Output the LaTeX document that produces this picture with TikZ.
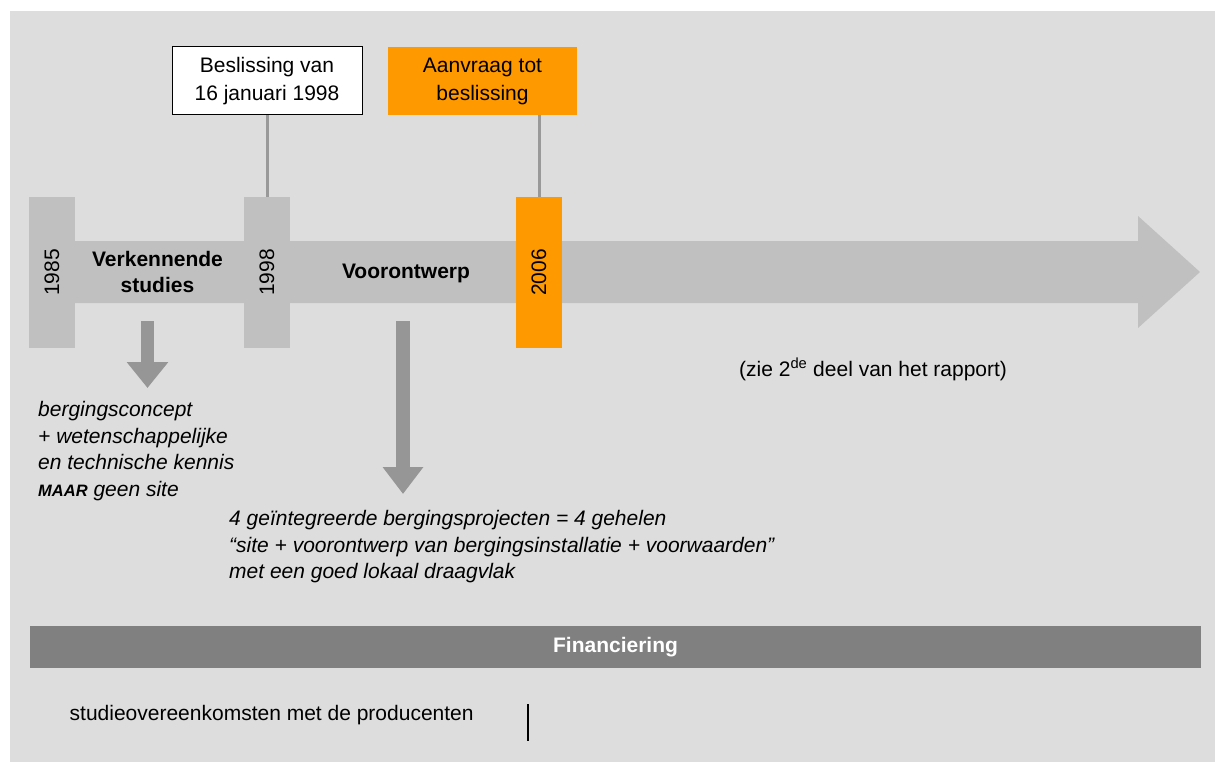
\documentclass[tikz,border=0pt]{standalone}
\usepackage{fontspec}
\setmainfont{Liberation Sans}
\usetikzlibrary{arrows.meta}
\definecolor{bgc}{HTML}{DDDDDD}
\definecolor{barc}{HTML}{C0C0C0}
\definecolor{darkc}{HTML}{969696}
\definecolor{linec}{HTML}{999999}
\definecolor{orangec}{HTML}{FF9900}
\definecolor{finc}{HTML}{808080}
\tikzset{
  txt/.style={font=\fontsize{21}{27}\selectfont, inner sep=0pt},
  yearbar/.style={txt, fill=barc, draw=none, rotate=90, minimum width=151pt, minimum height=46pt},
  notebox/.style={txt, font=\fontsize{21}{28}\selectfont, align=center, minimum width=190pt, minimum height=68pt},
  conn/.style={draw=linec, line width=3pt},
  downarrow/.style={draw=darkc, line width=13pt, -{Triangle[width=40pt,length=26pt]}},
  itxt/.style={txt, font=\fontsize{21}{26.7}\selectfont\itshape, align=left},
}
\begin{document}
\begin{tikzpicture}[x=1pt,y=-1pt]
\useasboundingbox (0,0) rectangle (1215,762);
\fill[bgc] (10,11) rectangle (1215,762);
% main timeline arrow
\fill[barc] (30,241) -- (1138,241) -- (1138,216) -- (1200,272) -- (1138,328) -- (1138,303) -- (30,303) -- cycle;
% year bars
\node[yearbar] (b1985) at (52,272.5) {1985};
\node[yearbar] (b1998) at (267,272.5) {1998};
\node[yearbar, fill=orangec] (b2006) at (539,272.5) {2006};
% labels on the arrow
\node[txt, font=\fontsize{21}{25.5}\selectfont\bfseries, align=center] (verk) at (157.5,272) {Verkennende\\studies};
\node[txt, font=\fontsize{21}{25}\selectfont\bfseries, anchor=base] (voor) at (406,278) {Voorontwerp};
% boxes above
\node[notebox, fill=white, draw=black, line width=1pt] (besl) at (267,81) {Beslissing van\\16 januari 1998};
\node[notebox, fill=orangec, minimum width=189pt] (aanv) at (482.5,81) {Aanvraag tot\\beslissing};
\draw[conn] (besl.south) -- (b1998.east);
\draw[conn] (b2006.east |- aanv.south) -- (b2006.east);
% down arrows
\coordinate (a1s) at (147.5,321);
\coordinate (a1e) at (147.5,388);
\coordinate (a2s) at (403,321);
\coordinate (a2e) at (403,494);
\draw[downarrow] (a1s) -- (a1e);
\draw[downarrow, line width=14pt, -{Triangle[width=39pt,length=27pt]}] (a2s) -- (a2e);
% text blocks
\node[itxt, anchor=north west] (res1) at (38,401) {bergingsconcept\\+ wetenschappelijke\\en technische kennis\\{\fontsize{16.5}{16.5}\selectfont\bfseries MAAR} geen site};
\node[itxt, anchor=north west] (res2) at (229,510) {4 geïntegreerde bergingsprojecten = 4 gehelen\\“site + voorontwerp van bergingsinstallatie + voorwaarden”\\met een goed lokaal draagvlak};
\node[txt, anchor=base west] (zie) at (739,376) {(zie 2\textsuperscript{de} deel van het rapport)};
% financing
\node[txt, fill=finc, text=white, font=\fontsize{21}{25}\selectfont\bfseries, minimum width=1171pt, minimum height=42pt] (fin) at (615.5,647) {Financiering};
\node[txt, anchor=base west] (stud) at (69.5,720) {studieovereenkomsten met de producenten};
\coordinate (sepA) at (528,704);
\coordinate (sepB) at (528,741);
\draw[black, line width=1.5pt] (sepA) -- (sepB);
\end{tikzpicture}
\end{document}
